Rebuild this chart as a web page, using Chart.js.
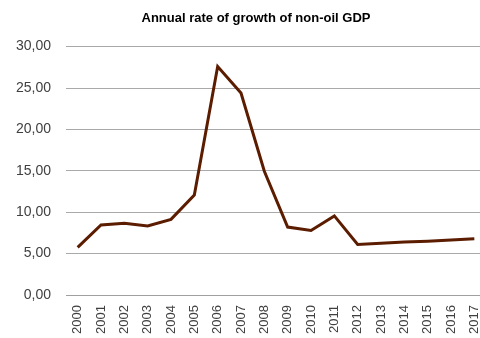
<!DOCTYPE html>
<html>
<head>
<meta charset="utf-8">
<script src="https://cdn.jsdelivr.net/npm/chart.js@4.4.1/dist/chart.umd.min.js"></script>
<style>
  html, body { margin: 0; padding: 0; background: #fff; overflow: hidden; }
  #wrap { width: 512px; height: 338px; }
</style>
</head>
<body>
<div id="wrap"><canvas id="gdpChart" width="512" height="338"></canvas></div>
<script>
const years = ['2000', '2001', '2002', '2003', '2004', '2005', '2006', '2007', '2008',
  '2009', '2010', '2011', '2012', '2013', '2014', '2015', '2016', '2017']
const growth = [5.76, 8.45, 8.66, 8.33, 9.14, 12.08, 27.6, 24.4, 14.95,
  8.2, 7.8, 9.55, 6.1, 6.25, 6.4, 6.5, 6.65, 6.8]
const yTicks = [0, 5, 10, 15, 20, 25, 30]

const ctx = document.getElementById('gdpChart').getContext('2d')

// centre the title on the whole canvas, not just the padded box
const centreTitle = {
  id: 'centreTitle',
  afterLayout(chart) {
    const t = chart.titleBlock
    if (t) { t.left = 0; t.right = chart.width }
  }
}

new Chart(ctx, {
  type: 'line',
  data: {
    labels: years,
    datasets: [{
      data: growth,
      borderColor: '#5b1c00',
      borderWidth: 3,
      pointRadius: 0,
      tension: 0,
      fill: false
    }]
  },
  plugins: [centreTitle],
  options: {
    responsive: false,
    animation: false,
    layout: { padding: { left: 0, right: 26, top: 0, bottom: 0 } },
    plugins: {
      legend: { display: false },
      tooltip: { enabled: false },
      title: {
        display: true,
        text: 'Annual rate of growth of non-oil GDP',
        color: '#000',
        font: { family: 'Liberation Sans', size: 13, weight: 'bold' },
        padding: { top: 11, bottom: 20 }
      }
    },
    scales: {
      x: {
        offset: true,
        grid: { display: false, drawTicks: false },
        border: { display: true, color: '#a0a0a0', width: 1 },
        ticks: {
          minRotation: 90,
          maxRotation: 90,
          autoSkip: false,
          padding: 10,
          color: '#404040',
          font: { family: 'Liberation Sans', size: 13 }
        },
        afterFit: (scale) => { scale.height = 43 }
      },
      y: {
        min: 0,
        max: 30,
        afterBuildTicks: (scale) => { scale.ticks = yTicks.map(v => ({ value: v })) },
        grid: { color: '#a9a9a9', lineWidth: 1, drawTicks: false },
        border: { display: false },
        ticks: {
          padding: 15,
          color: '#404040',
          font: { family: 'Liberation Sans', size: 14 },
          callback: (v) => v.toFixed(2).replace('.', ',')
        },
        afterFit: (scale) => { scale.width = 66 }
      }
    }
  }
})
</script>
</body>
</html>
